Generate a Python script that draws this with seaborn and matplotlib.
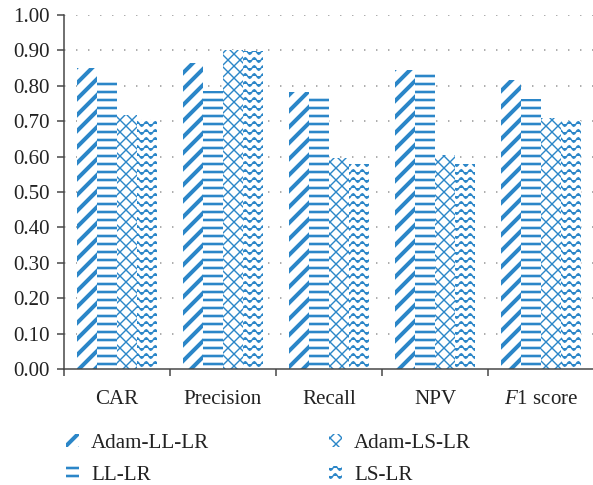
import numpy as np
import pandas as pd
import matplotlib
matplotlib.use("Agg")
import matplotlib.pyplot as plt
import matplotlib.hatch as mhatch
from matplotlib.path import Path
from matplotlib.patches import Patch
import seaborn as sns

# ---------------- data ----------------
categories = ["CAR", "Precision", "Recall", "NPV", "$F$1 score"]
models = ["Adam-LL-LR", "LL-LR", "Adam-LS-LR", "LS-LR"]
adam_ll_lr = [0.850, 0.864, 0.783, 0.845, 0.816]
ll_lr = [0.810, 0.785, 0.765, 0.833, 0.763]
adam_ls_lr = [0.717, 0.900, 0.596, 0.605, 0.709]
ls_lr = [0.706, 0.898, 0.580, 0.580, 0.700]
yticks = [0.0, 0.1, 0.2, 0.3, 0.4, 0.5, 0.6, 0.7, 0.8, 0.9, 1.0]

series = [adam_ll_lr, ll_lr, adam_ls_lr, ls_lr]
df = pd.DataFrame({
    "metric": [c for s in series for c in categories],
    "value": [v for s in series for v in s],
    "model": [m for m, s in zip(models, series) for _ in s],
})

# ---------------- custom wave hatch (mapped onto 'O') ----------------
class WaveHatch(mhatch.HatchPatternBase):
    def __init__(self, hatch, density):
        self.num_lines = int(hatch.count('O') * density)
        self.seg = 128
        self.num_vertices = self.num_lines * (self.seg + 1)

    def set_vertices_and_codes(self, vertices, codes):
        n = self.num_lines
        xs = np.linspace(0.0, 1.0, self.seg + 1)
        k = self.seg + 1
        for i in range(n):
            base = (i + 0.5) / n
            ys = base + 0.016 * np.sin(2 * np.pi * 16 * xs)
            vertices[i * k:(i + 1) * k, 0] = xs
            vertices[i * k:(i + 1) * k, 1] = ys
            codes[i * k] = Path.MOVETO
            codes[i * k + 1:(i + 1) * k] = Path.LINETO

mhatch._hatch_types[:] = [t for t in mhatch._hatch_types
                          if t is not mhatch.LargeCircles] + [WaveHatch]

# ---------------- style ----------------
sns.set_style("ticks")
plt.rcParams["font.family"] = ["Liberation Serif", "DejaVu Serif"]
plt.rcParams["mathtext.fontset"] = "custom"
plt.rcParams["mathtext.it"] = "Liberation Serif:italic"
plt.rcParams["mathtext.rm"] = "Liberation Serif"
plt.rcParams["font.size"] = 10.5

BLUE = "#2B86C8"
hatches = ["///", "---", "xxxx", "OOO"]
hlws = [2.0, 1.3, 0.7, 0.7]

DPI = 144
fig = plt.figure(figsize=(593 / DPI, 485 / DPI), dpi=DPI)
ax = fig.add_axes([64 / 593, 116 / 485, 530 / 593, 354 / 485])

sns.barplot(data=df, x="metric", y="value", hue="model", order=categories,
            hue_order=models, width=0.76, ax=ax, legend=False,
            saturation=1, errorbar=None)

def set_hlw(p, lw):
    try:
        p.set_hatch_linewidth(lw)
    except AttributeError:
        p._hatch_linewidth = lw

def style_patch(p, h, lw):
    p.set_facecolor("white")
    p.set_edgecolor(BLUE)
    p.set_linewidth(0)
    p.set_hatch(h)
    set_hlw(p, lw)

for cont, h, lw in zip(ax.containers, hatches, hlws):
    for p in cont:
        style_patch(p, h, lw)

# axes
ax.set_xlim(-0.5, 4.5)
ax.set_ylim(0, 1.0)
ax.set_yticks(yticks)
ax.set_yticklabels([f"{v:.2f}" for v in yticks])
ax.set_xticks(np.arange(-0.5, 5.0, 1.0))
ax.set_xticklabels([])
ax.set_xticks(np.arange(0, 5), minor=True)
ax.set_xticklabels(categories, minor=True)
ax.tick_params(axis="x", which="major", length=3.5, width=0.75, color="#444444")
ax.tick_params(axis="x", which="minor", length=0, pad=10.5, labelsize=10.5, labelcolor="#222222")
ax.tick_params(axis="y", length=3.5, width=0.75, color="#444444", pad=3.5,
               labelsize=10.5, labelcolor="#222222")
ax.set_xlabel("")
ax.set_ylabel("")
for s in ["top", "right"]:
    ax.spines[s].set_visible(False)
for s in ["left", "bottom"]:
    ax.spines[s].set_color("#444444")
    ax.spines[s].set_linewidth(0.75)

for y in yticks[1:]:
    ax.axhline(y, color="#9a9a9a", lw=0.8, ls=(0, (0.9, 6.6)), zorder=0.5)

# legend
handles = []
for m, h, lw in zip(models, hatches, hlws):
    p = Patch(facecolor="white", edgecolor=BLUE, linewidth=0, hatch=h, label=m)
    set_hlw(p, lw)
    handles.append(p)

leg = fig.legend(handles=handles, loc="upper left", bbox_to_anchor=(66 / 593, 1 - 434 / 485),
                 ncol=2, frameon=False, handlelength=0.6, handleheight=0.6,
                 handletextpad=0.6, columnspacing=5.7, labelspacing=0.6,
                 borderpad=0, borderaxespad=0, fontsize=10.5)
for t in leg.get_texts():
    t.set_color("#222222")
for lh, lw in zip(leg.legend_handles, hlws):
    set_hlw(lh, lw)

fig.savefig("out.png", dpi=DPI)
